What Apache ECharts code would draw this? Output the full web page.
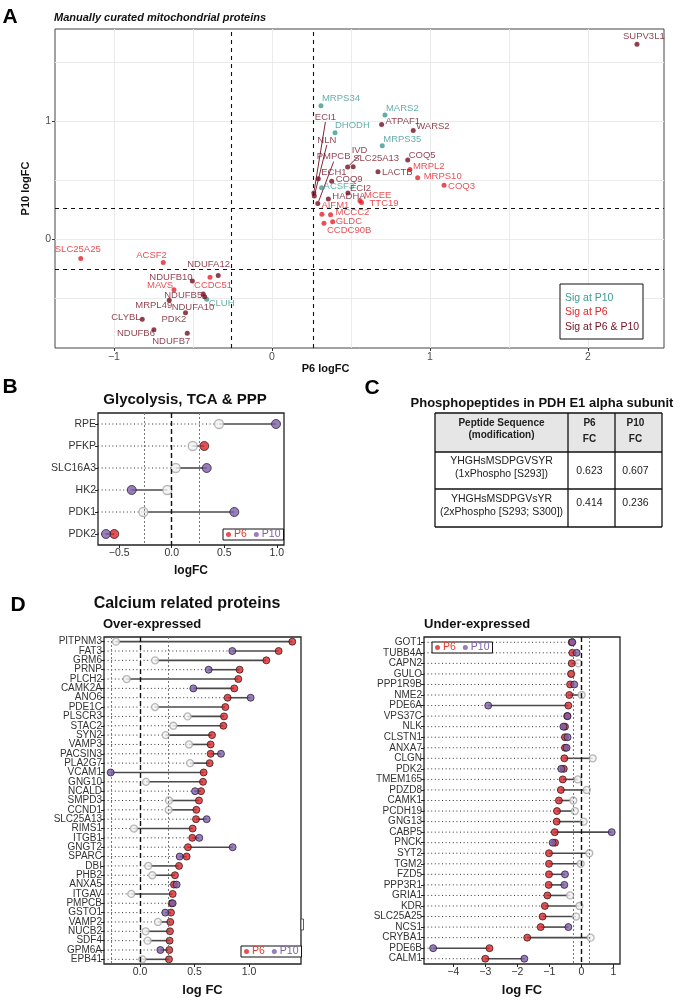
<!DOCTYPE html>
<html>
<head>
<meta charset="utf-8">
<script src="https://cdn.jsdelivr.net/npm/echarts@6.0.0/dist/echarts.min.js"></script>
<style>
html,body{margin:0;padding:0;background:#ffffff;}
#chart{width:682px;height:1000px;}
</style>
</head>
<body>
<div id="chart"></div>
<script>
// ---------------- Panel A data ----------------
const aNames = ['SUPV3L1','MRPS34','MARS2','ATPAF1','WARS2','DHODH','MRPS35','COQ5','IVD','SLC25A13','MRPL2','LACTB','MRPS10','ECH1','COQ9','COQ3','ACSF3','ECI2','ECI1','NLN','HADHA','MCEE','TTC19','PMPCB','AIFM1','MCCC2','GLDC','CCDC90B','SLC25A25','ACSF2','NDUFA12','CCDC51','NDUFB10','MAVS','NDUFB5','CLUH','MRPL49','NDUFA10','PDK2','CLYBL','NDUFB6','NDUFB7'];
const aP6 = [2.31,0.31,0.715,0.694,0.894,0.399,0.698,0.859,0.479,0.514,0.873,0.671,0.922,0.293,0.378,1.089,0.314,0.481,0.265,0.268,0.357,0.557,0.567,0.29,0.316,0.371,0.384,0.329,-1.21,-0.688,-0.34,-0.392,-0.504,-0.62,-0.435,-0.413,-0.65,-0.426,-0.547,-0.821,-0.747,-0.536];
const aP10 = [1.65,1.13,1.05,0.97,0.92,0.90,0.79,0.67,0.61,0.612,0.59,0.57,0.52,0.51,0.49,0.455,0.435,0.39,0.39,0.365,0.34,0.325,0.31,0.30,0.21,0.205,0.147,0.133,-0.165,-0.20,-0.31,-0.325,-0.356,-0.43,-0.466,-0.51,-0.52,-0.489,-0.626,-0.68,-0.77,-0.80];
const aSig = ['both','P10','P10','both','both','P10','P10','both','both','both','P6','both','P6','both','both','P6','P10','both','both','both','both','P6','P6','both','P6','P6','P6','P6','P6','P6','both','P6','both','P6','both','P10','both','both','both','both','both','both'];
const aSigLabels = ['Sig at P10','Sig at P6','Sig at P6 & P10'];
const aXTicks = [-1,0,1,2];
const aYTicks = [0,1];
const aXGrid = [-1,-0.5,0,0.5,1,1.5,2];
const aYGrid = [-0.5,0,0.5,1,1.5];
const FC_THRESH = 0.263;

// ---------------- Panel B data ----------------
const bGenes = ['RPE','PFKP','SLC16A3','HK2','PDK1','PDK2'];
const bP6  = [0.45,0.31,0.038,-0.042,-0.27,-0.547];
const bP10 = [0.993,0.20,0.333,-0.381,0.596,-0.626];
const bSigP6  = [0,1,0,0,0,1];
const bSigP10 = [1,0,1,1,1,1];
const bTicks = [-0.5,0,0.5,1];

// ---------------- Panel C data ----------------
const cHeader = ['Peptide Sequence\n(modification)','P6\nFC','P10\nFC'];
const cPeptides = ['YHGHsMSDPGVSYR','YHGHsMSDPGVsYR'];
const cMods = ['(1xPhospho [S293])','(2xPhospho [S293; S300])'];
const cP6FC = ['0.623','0.414'];
const cP10FC = ['0.607','0.236'];

// ---------------- Panel D (over-expressed) ----------------
const dlGenes = ['PITPNM3','FAT3','GRM6','PRNP','PLCH2','CAMK2A','ANO6','PDE1C','PLSCR3','STAC2','SYN2','VAMP3','PACSIN3','PLA2G7','VCAM1','GNG10','NCALD','SMPD3','CCND1','SLC25A13','RIMS1','ITGB1','GNGT2','SPARC','DBI','PHB2','ANXA5','ITGAV','PMPCB','GSTO1','VAMP2','NUCB2','SDF4','GPM6A','EPB41'];
const dlP6  = [1.397,1.272,1.159,0.914,0.902,0.865,0.804,0.783,0.771,0.765,0.661,0.648,0.648,0.639,0.584,0.578,0.560,0.541,0.517,0.514,0.483,0.480,0.440,0.428,0.358,0.321,0.312,0.300,0.290,0.284,0.278,0.275,0.272,0.269,0.266];
const dlP10 = [-0.22,0.847,0.138,0.630,-0.122,0.489,1.015,0.138,0.437,0.306,0.236,0.450,0.743,0.459,-0.269,0.055,0.505,0.266,0.263,0.612,-0.055,0.544,0.850,0.364,0.076,0.113,0.336,-0.080,0.300,0.232,0.165,0.052,0.070,0.187,0.021];
const dlSigP6  = [1,1,1,1,1,1,1,1,1,1,1,1,1,1,1,1,1,1,1,1,1,1,1,1,1,1,1,1,1,1,1,1,1,1,1];
const dlSigP10 = [0,1,0,1,0,1,1,0,0,0,0,0,1,0,1,0,1,0,0,1,0,1,1,1,0,0,1,0,1,1,0,0,0,1,0];
const dlTicks = [0,0.5,1];

// ---------------- Panel D (under-expressed) ----------------
const drGenes = ['GOT1','TUBB4A','CAPN2','GULO','PPP1R9B','NME2','PDE6A','VPS37C','NLK','CLSTN1','ANXA7','CLGN','PDK2','TMEM165','PDZD8','CAMK1','PCDH19','GNG13','CABP5','PNCK','SYT2','TGM2','FZD5','PPP3R1','GRIA1','KDR','SLC25A25','NCS1','CRYBA1','PDE6B','CALM1'];
const drP6  = [-0.30,-0.28,-0.30,-0.32,-0.35,-0.375,-0.406,-0.44,-0.51,-0.51,-0.51,-0.53,-0.547,-0.58,-0.64,-0.70,-0.76,-0.77,-0.83,-0.82,-1.01,-1.01,-1.01,-1.02,-1.06,-1.14,-1.21,-1.27,-1.69,-2.87,-3.00];
const drP10 = [-0.28,-0.145,-0.09,-0.31,-0.22,0.01,-2.91,-0.43,-0.56,-0.43,-0.46,0.355,-0.626,-0.11,0.17,-0.25,-0.20,0.074,0.95,-0.895,0.25,-0.02,-0.51,-0.53,-0.35,-0.06,-0.165,-0.405,0.29,-4.63,-1.78];
const drSigP6  = [1,1,1,1,1,1,1,1,1,1,1,1,1,1,1,1,1,1,1,1,1,1,1,1,1,1,1,1,1,1,1];
const drSigP10 = [1,1,0,0,1,0,1,1,1,1,1,0,1,0,0,0,0,0,1,1,0,0,1,1,0,0,0,1,0,1,1];
const drTicks = [-4,-3,-2,-1,0,1];

// ---------------- styling / layout ----------------
const FONT = '"Liberation Sans", Arial, Helvetica, sans-serif';
const SIGCOL = {P10:'#3d9a95', P6:'#e3232a', both:'#731022'};
const RED = '#d9272c', PURPLE = '#7e5fa8', TXT_RED = '#e23b2a';
const NS_FILL = '#f4f2f2', NS_STROKE = '#a6a6a6';

// label anchor (text start x offset, centre y offset) relative to each point, in px
const aLabelAt = {
  SUPV3L1:[-14,-8], MRPS34:[1,-7], MARS2:[1,-7], ATPAF1:[4,-3], WARS2:[3,-4], DHODH:[0,-7], MRPS35:[1,-6],
  COQ5:[1,-5], IVD:[4,-17], SLC25A13:[0,-8], MRPL2:[3,-3], LACTB:[4,1], MRPS10:[6,-1], ECH1:[3,-6],
  COQ9:[4,-2], COQ3:[4,1], ACSF3:[2,-1], ECI2:[2,-5], ECI1:[1,-76], NLN:[3,-56], HADHA:[4,-3],
  MCEE:[4,-5], TTC19:[8,1], PMPCB:[-1,-47], AIFM1:[-0.5,-9], MCCC2:[5,-2], GLDC:[3,0], CCDC90B:[3,7],
  SLC25A25:[-26,-9], ACSF2:[-27,-7], NDUFA12:[-31,-11], CCDC51:[-16,8], NDUFB10:[-43,-4], MAVS:[-27,-4],
  NDUFB5:[-39,1], CLUH:[2,4], MRPL49:[-34,5], NDUFA10:[-33,11], PDK2:[-24,7], CLYBL:[-31,-2],
  NDUFB6:[-37,4], NDUFB7:[-35,8]
};
const aLinked = ['ECI1','NLN','PMPCB','IVD'];

function fmtInt(v){ return (v < 0 ? '\u2212' : '') + Math.abs(v); }
function fmt1(v){ return (v < 0 ? '\u2212' : '') + Math.abs(v).toFixed(1); }

const chart = echarts.init(document.getElementById('chart'), null, {renderer:'canvas', width:682, height:1000});

// ---------- Panel A series ----------
const aData = aNames.map((n,i) => ({
  name: n,
  value: [aP6[i], aP10[i]],
  itemStyle: {color: SIGCOL[aSig[i]]},
  label: {color: SIGCOL[aSig[i]]},
  labelLine: {show: aLinked.indexOf(n) >= 0, lineStyle: {color: SIGCOL[aSig[i]], width: 0.9}}
}));

const threshStyle = {color:'#111', type:[4,4], width:1.1};
const seriesA = {
  type:'scatter', name:'mito', xAxisIndex:0, yAxisIndex:0, symbolSize:5, z:5,
  data: aData,
  label: {show:true, formatter:'{b}', fontSize:9.5, fontFamily:FONT},
  labelLine: {show:false},
  labelLayout: function(params){
    const n = aNames[params.dataIndex];
    const o = aLabelAt[n] || [3,0];
    const r = params.rect;
    return {x: r.x + r.width/2 + o[0], y: r.y + r.height/2 + o[1], align:'left', verticalAlign:'middle'};
  },
  markLine: {
    silent:true, symbol:['none','none'], label:{show:false},
    lineStyle: threshStyle,
    data: [{xAxis:-FC_THRESH},{xAxis:FC_THRESH},{yAxis:-FC_THRESH},{yAxis:FC_THRESH}]
  }
};

// ---------- lollipop builder ----------
function lollipop(ax, genes, p6, p10, sig6, sig10, size) {
  const idx = genes.map((g,i) => i);
  const lines = {
    type:'custom', xAxisIndex:ax, yAxisIndex:ax, silent:true, z:2,
    data: idx.map(i => [p6[i], p10[i], i]),
    encode: {x:[0,1], y:2},
    renderItem: function(params, api){
      const a = api.value(0), b = api.value(1), i = api.value(2);
      const lo = Math.min(a,b), hi = Math.max(a,b);
      const pLo = api.coord([lo, i]), pHi = api.coord([hi, i]);
      const cs = params.coordSys;
      return {type:'group', children:[
        {type:'line', shape:{x1:cs.x, y1:pLo[1], x2:pLo[0], y2:pLo[1]}, style:{stroke:'#333', lineWidth:1, lineDash:[1,2.6]}},
        {type:'line', shape:{x1:pLo[0], y1:pLo[1], x2:pHi[0], y2:pHi[1]}, style:{stroke:'#4a4a4a', lineWidth:1.6}}
      ]};
    }
  };
  const nsData = [];
  idx.forEach(i => { if(!sig6[i]) nsData.push([p6[i], i]); if(!sig10[i]) nsData.push([p10[i], i]); });
  const ns = {
    type:'scatter', name:'NS', xAxisIndex:ax, yAxisIndex:ax, z:3, symbolSize:size, silent:true,
    itemStyle:{color:NS_FILL, borderColor:NS_STROKE, borderWidth:1.3},
    data: nsData,
    markLine: {
      silent:true, symbol:['none','none'], label:{show:false},
      data: [
        {xAxis:-FC_THRESH, lineStyle:{color:'#777', type:[2,2], width:1}},
        {xAxis:FC_THRESH, lineStyle:{color:'#777', type:[2,2], width:1}},
        {xAxis:0, lineStyle:{color:'#111', type:[5,3], width:1.4}}
      ]
    }
  };
  const s6 = {
    type:'scatter', name:'P6', xAxisIndex:ax, yAxisIndex:ax, z:4, symbolSize:size, silent:true,
    itemStyle:{color:RED, borderColor:'#2a1010', borderWidth:0.9},
    data: idx.filter(i => sig6[i]).map(i => [p6[i], i])
  };
  const s10 = {
    type:'scatter', name:'P10', xAxisIndex:ax, yAxisIndex:ax, z:5, symbolSize:size, silent:true,
    itemStyle:{color:PURPLE, borderColor:'#1e1430', borderWidth:0.9},
    data: idx.filter(i => sig10[i]).map(i => [p10[i], i])
  };
  return [lines, ns, s6, s10];
}

function lolliX(gi, min, max, ticks, fmt, name, nameSize, nameGap){
  return {
    gridIndex:gi, type:'value', min:min, max:max,
    axisLine:{show:false, onZero:false},
    axisTick:{show:true, customValues:ticks, length:3, lineStyle:{color:'#222', width:1}},
    axisLabel:{customValues:ticks, formatter:fmt, fontSize:10.5, color:'#333', margin:3, fontFamily:FONT},
    splitLine:{show:false},
    name:name, nameLocation:'middle', nameGap:nameGap,
    nameTextStyle:{fontWeight:'bold', fontSize:nameSize, color:'#111', fontFamily:FONT}
  };
}
function lolliY(gi, genes, fs){
  return {
    gridIndex:gi, type:'category', data:genes, inverse:true,
    axisLine:{show:false, onZero:false},
    axisTick:{show:true, alignWithLabel:true, length:3, lineStyle:{color:'#222'}},
    axisLabel:{fontSize:fs, color:'#333', margin:2, fontFamily:FONT, interval:0},
    splitLine:{show:false}
  };
}

// ---------- graphics: letters, titles, legend A, table C ----------
function txt(x, y, s, size, weight, align, color, style, lh){
  return {type:'text', x:x, y:y, silent:true, style:{text:s, fontSize:size, fontWeight:weight||'normal',
    fontStyle:style||'normal', fontFamily:FONT, fill:color||'#000', align:align||'left',
    verticalAlign:'middle', lineHeight:lh||undefined}};
}
const graphics = [];
graphics.push(txt(10,17,'A',21,'bold','center'));
graphics.push(txt(54,18,'Manually curated mitochondrial proteins',11,'bold','left','#111','italic'));
graphics.push(txt(10,387,'B',21,'bold','center'));
graphics.push(txt(185,400,'Glycolysis, TCA & PPP',15,'bold','center','#111'));
graphics.push(txt(372,388,'C',21,'bold','center'));
graphics.push(txt(542,403,'Phosphopeptides in PDH E1 alpha subunit',13,'bold','center','#111'));
graphics.push(txt(18,605,'D',21,'bold','center'));
graphics.push(txt(187,604,'Calcium related proteins',16,'bold','center','#111'));
graphics.push(txt(103,624,'Over-expressed',13,'bold','left','#111'));
graphics.push(txt(424,624,'Under-expressed',13,'bold','left','#111'));

// legend A
graphics.push({type:'rect', silent:true, shape:{x:560, y:284, width:83, height:55}, style:{fill:'#fff', stroke:'#111', lineWidth:1}, z:10});
const aLegCols = [SIGCOL.P10, SIGCOL.P6, SIGCOL.both];
aSigLabels.forEach((s,k) => { const t = txt(565, 298 + k*14.5, s, 10.5, 'normal', 'left', aLegCols[k]); t.z = 11; graphics.push(t); });

// tiny bracket artefact at right of D-left panel
graphics.push({type:'rect', silent:true, shape:{x:301, y:919, width:2.5, height:11}, style:{fill:'#fff', stroke:'#333', lineWidth:0.8}});

// table C
const tX = [435, 568, 615, 662];
const tY = [413, 452, 489, 527];
graphics.push({type:'rect', silent:true, shape:{x:tX[0], y:tY[0], width:tX[3]-tX[0], height:tY[1]-tY[0]}, style:{fill:'#e6e6e6'}});
tY.forEach(y => graphics.push({type:'line', silent:true, shape:{x1:tX[0], y1:y, x2:tX[3], y2:y}, style:{stroke:'#111', lineWidth:1.3}}));
tX.forEach(x => graphics.push({type:'line', silent:true, shape:{x1:x, y1:tY[0], x2:x, y2:tY[3]}, style:{stroke:'#111', lineWidth:1.3}}));
graphics.push(txt((tX[0]+tX[1])/2, 429, cHeader[0], 10, 'bold', 'center', '#222', 'normal', 12));
graphics.push(txt((tX[1]+tX[2])/2 - 2, 431, cHeader[1], 10, 'bold', 'center', '#222', 'normal', 16));
graphics.push(txt((tX[2]+tX[3])/2 - 3, 431, cHeader[2], 10, 'bold', 'center', '#222', 'normal', 16));
cPeptides.forEach((p,k) => {
  const yc = k === 0 ? 468 : 506;
  const yv = k === 0 ? 471 : 503;
  graphics.push(txt((tX[0]+tX[1])/2, yc, p + '\n' + cMods[k], 10.5, 'normal', 'center', '#222', 'normal', 13));
  graphics.push(txt((tX[1]+tX[2])/2 - 2, yv, cP6FC[k], 10.5, 'normal', 'center', '#222'));
  graphics.push(txt((tX[2]+tX[3])/2 - 3, yv, cP10FC[k], 10.5, 'normal', 'center', '#222'));
});

function legendAt(left, top){
  return {
    left:left, top:top, orient:'horizontal', icon:'circle', itemWidth:5, itemHeight:5, itemGap:7,
    padding:[0,3], borderColor:'#111', borderWidth:1, backgroundColor:'#fff', selectedMode:false,
    itemStyle:{borderWidth:0},
    textStyle:{fontSize:10.5, fontFamily:FONT, padding:[0,0,0,-2]},
    data:[{name:'P6', textStyle:{color:TXT_RED}}, {name:'P10', textStyle:{color:PURPLE}}]
  };
}

const option = {
  animation:false,
  backgroundColor:'#ffffff',
  textStyle:{fontFamily:FONT},
  grid:[
    {left:55, top:29, width:609, height:319, show:true, borderColor:'#444', borderWidth:1, backgroundColor:'#fff'},
    {left:98, top:413, width:186, height:132, show:true, borderColor:'#222', borderWidth:1.3, backgroundColor:'transparent'},
    {left:104, top:637, width:197, height:327, show:true, borderColor:'#222', borderWidth:1.3, backgroundColor:'transparent'},
    {left:424, top:637, width:196, height:327, show:true, borderColor:'#222', borderWidth:1.3, backgroundColor:'transparent'}
  ],
  xAxis:[
    {gridIndex:0, type:'value', min:-1.373, max:2.481, position:'bottom',
     axisLine:{show:false, onZero:false},
     axisTick:{show:true, customValues:aXTicks, length:3, lineStyle:{color:'#333'}},
     axisLabel:{customValues:aXTicks, formatter:fmtInt, fontSize:10.5, color:'#4d4d4d', margin:4, fontFamily:FONT},
     splitLine:{show:false},
     name:'P6 logFC', nameLocation:'middle', nameGap:13,
     nameTextStyle:{fontWeight:'bold', fontSize:11, color:'#111', fontFamily:FONT, padding:[0,68,0,0]}},
    {gridIndex:0, type:'value', min:-1.373, max:2.481, position:'bottom',
     axisLine:{show:false, onZero:false}, axisTick:{show:false, customValues:aXGrid}, axisLabel:{show:false, customValues:aXGrid},
     splitLine:{show:true, lineStyle:{color:'#ebebeb', width:1}}},
    lolliX(1, -0.702, 1.069, bTicks, fmt1, 'logFC', 12, 20),
    lolliX(2, -0.330, 1.477, dlTicks, fmt1, 'log FC', 13, 20),
    lolliX(3, -4.916, 1.209, drTicks, fmtInt, 'log FC', 13, 20)
  ],
  yAxis:[
    {gridIndex:0, type:'value', min:-0.924, max:1.78, position:'left',
     axisLine:{show:false, onZero:false},
     axisTick:{show:true, customValues:aYTicks, length:3, lineStyle:{color:'#333'}},
     axisLabel:{customValues:aYTicks, formatter:fmtInt, fontSize:10.5, color:'#4d4d4d', margin:4, fontFamily:FONT},
     splitLine:{show:false},
     name:'P10 logFC', nameLocation:'middle', nameGap:24, nameRotate:90,
     nameTextStyle:{fontWeight:'bold', fontSize:11, color:'#111', fontFamily:FONT}},
    {gridIndex:0, type:'value', min:-0.924, max:1.78, position:'right',
     axisLine:{show:false, onZero:false}, axisTick:{show:false, customValues:aYGrid}, axisLabel:{show:false, customValues:aYGrid},
     splitLine:{show:true, lineStyle:{color:'#ebebeb', width:1}}},
    lolliY(1, bGenes, 10.5),
    lolliY(2, dlGenes, 10),
    lolliY(3, drGenes, 10)
  ],
  legend:[ legendAt(223, 529), legendAt(241, 946), legendAt(432, 642) ],
  series: [seriesA]
    .concat(lollipop(2, bGenes, bP6, bP10, bSigP6, bSigP10, 9))
    .concat(lollipop(3, dlGenes, dlP6, dlP10, dlSigP6, dlSigP10, 7))
    .concat(lollipop(4, drGenes, drP6, drP10, drSigP6, drSigP10, 7)),
  graphic: graphics
};
chart.setOption(option);
</script>
</body>
</html>
